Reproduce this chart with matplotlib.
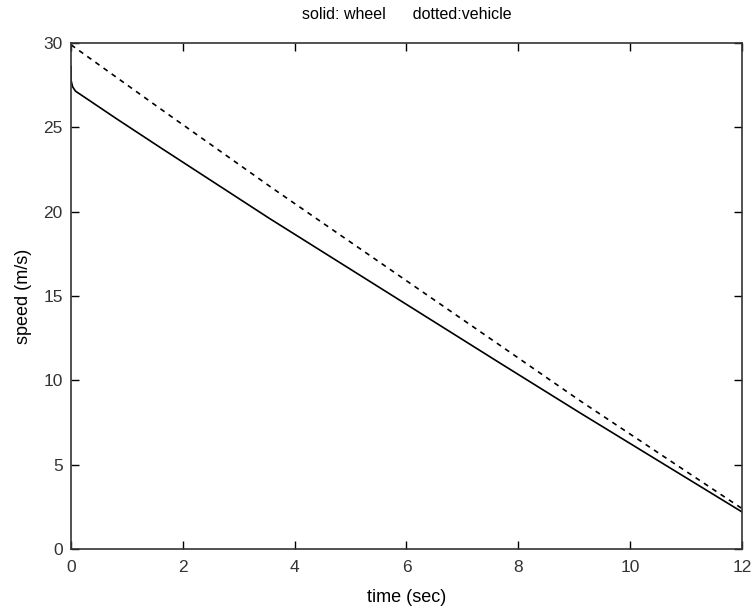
import matplotlib.pyplot as plt

# wheel speed (solid) and vehicle speed (dotted)
wheel_t = [0, 0, 0.03, 0.08, 0.17, 0.82, 1.6, 3.55, 7.66, 9.09, 12]
wheel_v = [28.6, 27.8, 27.4, 27.15, 26.95, 25.5, 23.8, 19.6, 11.05, 8.1, 2.2]
vehicle_t = [0, 1.6, 3.6, 7.75, 9.1, 12]
vehicle_v = [29.9, 26.1, 21.4, 11.9, 8.8, 2.4]

xticks = [0, 2, 4, 6, 8, 10, 12]
yticks = [0, 5, 10, 15, 20, 25, 30]

plt.rcParams['font.family'] = ['Liberation Sans', 'DejaVu Sans']

fig = plt.figure(figsize=(7.53, 6.11), dpi=100)
ax = fig.add_axes([0.0943, 0.1015, 0.891, 0.828])

ax.plot(wheel_t, wheel_v, color='black', linewidth=1.2)
ax.plot(vehicle_t, vehicle_v, color='black', linewidth=1.2, linestyle=(0, (3, 3)))

ax.set_xlim(0, 12)
ax.set_ylim(0, 30)
ax.set_xticks(xticks)
ax.set_yticks(yticks)
ax.tick_params(direction='in', length=6, width=1, top=True, right=True,
               labelsize=12.5, labelcolor='#333333')
ax.tick_params(axis='x', pad=8)
ax.tick_params(axis='y', pad=6)
for s in ax.spines.values():
    s.set_color('#333333')
    s.set_linewidth(1.2)

ax.set_title('solid: wheel      dotted:vehicle', fontsize=11.5, pad=17)
ax.set_xlabel('time (sec)', fontsize=13, labelpad=10)
ax.set_ylabel('speed (m/s)', fontsize=13, labelpad=8)

fig.savefig('out.png', dpi=100)
